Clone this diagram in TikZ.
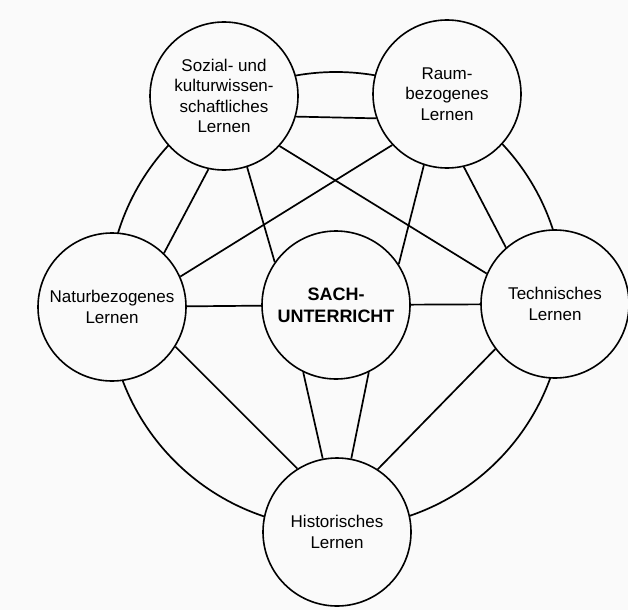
\documentclass[tikz,border=0pt]{standalone}
\usepackage{fontspec}
\setmainfont{Liberation Sans}
\definecolor{bg}{RGB}{250,250,250}
\begin{document}
\begin{tikzpicture}[x=1pt,y=-1pt,
  topic/.style={circle, draw, line width=1.6pt, fill=bg, minimum size=148pt, inner sep=0pt, align=center, font=\fontsize{17}{20.5}\selectfont},
  link/.style={line width=1.7pt}]
\fill[bg] (0,0) rectangle (628,610);
\useasboundingbox (0,0) rectangle (628,610);
\coordinate (o) at (336,300);
\draw[link] (o) circle[radius=228pt];
\node[topic] (tl) at (224,96) {Sozial- und\\kulturwissen-\\schaftliches\\Lernen};
\node[topic] (tr) at (447,94) {Raum-\\bezogenes\\Lernen};
\node[topic] (l) at (112,307) {Naturbezogenes\\Lernen};
\node[topic, font=\bfseries\fontsize{18}{22}\selectfont] (c) at (336,305) {SACH-\\UNTERRICHT};
\node[topic] (r) at (555,304) {Technisches\\Lernen};
\node[topic] (b) at (337,532) {Historisches\\Lernen};
% ring chords
\draw[link] (tl.-16.5) -- (tr.-161.6);
\draw[link] (tl.-102.6) -- (l.46.6);
\draw[link] (tr.-77.5) -- (r.131);
\draw[link] (l.-32.6) -- (b.122.9);
\draw[link] (r.-143.9) -- (b.57.8);
% to centre
\draw[link] (tl.-72) -- (c.145);
\draw[link] (tr.-108) -- (c.33.5);
\draw[link] (l) -- (c);
\draw[link] (c) -- (r);
\draw[link] (c.-116) -- (b.101);
\draw[link] (c.-64) -- (b.79.6);
% crossing lines
\draw[link] (tl.-42) -- (r.156.7);
\draw[link] (tr.-137) -- (l.24);
\end{tikzpicture}
\end{document}
